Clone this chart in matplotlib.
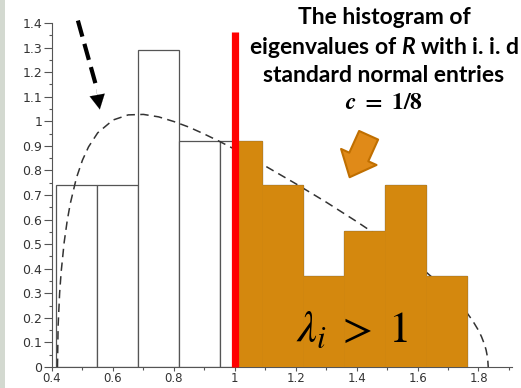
import matplotlib
matplotlib.use("Agg")
import matplotlib.pyplot as plt
from matplotlib.patches import Rectangle
from matplotlib.ticker import MultipleLocator

# ---------------- data ----------------
bin_edges = [0.413, 0.548, 0.683, 0.818, 0.953, 1.088, 1.223, 1.358, 1.493, 1.628, 1.763]
bin_heights = [0.74, 0.74, 1.29, 0.92, 0.92, 0.74, 0.37, 0.555, 0.74, 0.37]
threshold = 1.0
red_line_top = 1.365

curve_x = [0.418, 0.42, 0.425, 0.43, 0.44, 0.45, 0.46, 0.48, 0.50, 0.52, 0.55, 0.60, 0.65,
           0.70, 0.75, 0.80, 0.85, 0.90, 0.95, 1.00, 1.10, 1.20, 1.30, 1.40, 1.50, 1.60,
           1.70, 1.75, 1.78, 1.80, 1.81, 1.82, 1.825, 1.83, 1.832]
curve_y = [0.0, 0.165, 0.30, 0.386, 0.508, 0.596, 0.665, 0.769, 0.842, 0.896, 0.953, 1.005,
           1.026, 1.028, 1.018, 0.999, 0.976, 0.948, 0.918, 0.886, 0.818, 0.746, 0.671, 0.592,
           0.509, 0.417, 0.308, 0.241, 0.190, 0.149, 0.123, 0.091, 0.069, 0.037, 0.0]

x_ticks = [0.4, 0.6, 0.8, 1.0, 1.2, 1.4, 1.6, 1.8]
x_labels = ["0.4", "0.6", "0.8", "1", "1.2", "1.4", "1.6", "1.8"]
y_ticks = [0.0, 0.1, 0.2, 0.3, 0.4, 0.5, 0.6, 0.7, 0.8, 0.9, 1.0, 1.1, 1.2, 1.3, 1.4]
y_labels = ["0", "0.1", "0.2", "0.3", "0.4", "0.5", "0.6", "0.7", "0.8", "0.9",
            "1", "1.1", "1.2", "1.3", "1.4"]

title_lines = ["The histogram of",
               r"eigenvalues of $\mathbfit{R}$ with i. i. d",
               "standard normal entries"]
c_label = r"$\mathbfit{c}\ \mathbf{=\ 1/8}$"
lambda_label = r"$\lambda_i\;>\;1$"

# ---------------- style ----------------
plt.rcParams['mathtext.bfit'] = 'Lato:italic:bold'
W, H = 521, 388
fig = plt.figure(figsize=(W / 100, H / 100), dpi=100)
fig.patch.set_facecolor('white')
fig.patches.append(Rectangle((0, 0), 5 / W, 1, transform=fig.transFigure,
                             facecolor='#d3d9d0', edgecolor='none', zorder=0))

ax = fig.add_axes([52 / W, 21 / H, (512 - 52) / W, (367 - 23) / H])
ax.set_xlim(0.4, 1.91)
ax.set_ylim(0, 1.4)
for s in ['top', 'right']:
    ax.spines[s].set_visible(False)
for s in ['left', 'bottom']:
    ax.spines[s].set_color('#555555')
    ax.spines[s].set_linewidth(0.8)

orange = '#d4880e'
lefts = bin_edges[:-1]
widths = [b - a for a, b in zip(bin_edges[:-1], bin_edges[1:])]

# white bars
ax.bar(lefts, bin_heights, width=widths, align='edge', facecolor='white',
       edgecolor='#555555', linewidth=0.9, zorder=1)

# theoretical density curve
ax.plot(curve_x, curve_y, color='#333333', lw=1.1, dashes=(5.5, 3.5), zorder=2)

# orange fill for eigenvalues > 1
o_left = [max(a, threshold) for a, b in zip(bin_edges[:-1], bin_edges[1:]) if b > threshold]
o_right = [b for b in bin_edges[1:] if b > threshold]
o_h = [h for h, b in zip(bin_heights, bin_edges[1:]) if b > threshold]
ax.bar(o_left, o_h, width=[r - l for l, r in zip(o_left, o_right)], align='edge',
       facecolor=orange, edgecolor=orange, linewidth=0.5, zorder=3)

# red threshold line
ax.plot([threshold, threshold], [0, red_line_top], color='#ff0000', lw=5.2,
        solid_capstyle='butt', zorder=4, clip_on=False)

# ticks
ax.set_xticks(x_ticks)
ax.set_xticklabels(x_labels)
ax.set_yticks(y_ticks)
ax.set_yticklabels(y_labels)
ax.xaxis.set_minor_locator(MultipleLocator(0.1))
ax.yaxis.set_minor_locator(MultipleLocator(0.05))
ax.tick_params(axis='y', which='major', direction='out', length=5.5, width=0.8,
               color='#555555', labelsize=9, labelcolor='#333333', pad=1.5)
ax.tick_params(axis='x', which='major', direction='out', length=3, width=0.8,
               color='#555555', labelsize=8.5, labelcolor='#333333', pad=0.8)
ax.tick_params(which='minor', direction='out', length=2.5, width=0.8, color='#555555')
for lab in ax.get_xticklabels() + ax.get_yticklabels():
    lab.set_family('DejaVu Sans')

# black dashed arrow
ax.plot([0.485, 0.548], [1.41, 1.13], color='black', lw=3, dashes=(4, 1.8),
        solid_capstyle='butt', dash_capstyle='butt', clip_on=False, zorder=5)
ax.annotate('', xy=(0.557, 1.048), xytext=(0.545, 1.13),
            arrowprops=dict(arrowstyle='-|>,head_length=1.05,head_width=0.55',
                            color='black', lw=0.1, shrinkA=0, shrinkB=0),
            annotation_clip=False, zorder=5)

# orange arrow
ax.annotate('', xy=(0.4 + (350 - 52) / 305, (367 - 177) / 246),
            xytext=(0.4 + (369 - 52) / 305, (367 - 135) / 246),
            arrowprops=dict(arrowstyle='simple,head_length=0.8,head_width=1.4,tail_width=0.75',
                            facecolor='#e08a18', edgecolor='#c06f00', lw=1.5,
                            shrinkA=0, shrinkB=0, mutation_scale=20),
            zorder=6)

# text
ys = [17, 47, 75]
for line, y in zip(title_lines, ys):
    fig.text(384 / W, 1 - y / H, line, ha='center', va='center', fontsize=16.5,
             fontweight='bold', family='Lato', color='black', math_fontfamily='custom')
fig.text(384 / W, 1 - 102 / H, c_label, ha='center', va='center', fontsize=17,
         color='black', math_fontfamily='stix')
fig.text(352 / W, 1 - 329 / H, lambda_label, ha='center', va='center', fontsize=32,
         color='black', math_fontfamily='stix')

fig.savefig('out.png', dpi=100)
